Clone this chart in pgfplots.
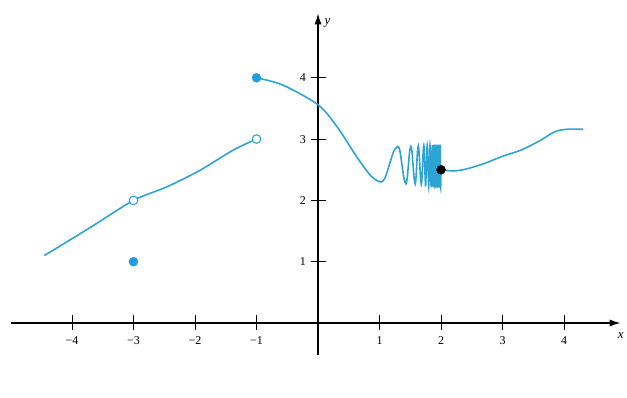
\documentclass[border=0pt]{standalone}
\usepackage{fontspec}
\setmainfont{Liberation Serif}
\usepackage{pgfplots}
\pgfplotsset{compat=1.18}
\usetikzlibrary{arrows.meta}
\definecolor{cblue}{RGB}{45,165,212}
\definecolor{dblue}{RGB}{30,158,218}
\begin{document}
\begin{tikzpicture}
\begin{axis}[
  axis lines=middle,
  x=61.5pt, y=61.3pt,
  xmin=-5.0, xmax=4.92, ymin=-0.52, ymax=5.05,
  clip=false,
  axis line style={line width=1.2pt, black, -{Latex[length=11pt,width=7pt]}},
  xtick={-4,-3,-2,-1,1,2,3,4},
  xticklabels={−4,−3,−2,−1,1,2,3,4},
  ytick={1,2,3,4},
  yticklabels={1,2,3,4},
  tick align=center,
  major tick length=15pt,
  tick style={black, line width=1pt},
  tick label style={font=\fontsize{12}{13}\selectfont},
  x tick label style={anchor=north, yshift=-3pt},
  y tick label style={anchor=east, xshift=-1pt},
  xlabel={\textit{x}},
  ylabel={\textit{y}},
  every axis x label/.style={at={(current axis.right of origin)}, anchor=north, yshift=-6pt, font=\fontsize{13}{14}\selectfont},
  every axis y label/.style={at={(current axis.above origin)}, anchor=north west, xshift=3pt, yshift=-2pt, font=\fontsize{13}{14}\selectfont},
]
% invisible bounding box matching reference proportions
\path (axis cs:-5.171,-1.223) rectangle (axis cs:5.024,5.269);

% left piece
\addplot[cblue, line width=1.6pt, smooth, no marks] coordinates {
  (-4.45,1.10) (-3.7,1.56) (-3,2.00) (-2.46,2.22) (-1.92,2.49) (-1.38,2.82) (-1,3.00)
};

% middle oscillating piece
\addplot[cblue, line width=1.6pt, smooth, tension=0.5, no marks] coordinates {
  (-1,4.00) (-0.57,3.88) (0,3.56) (0.31,3.20) (0.63,2.71) (0.86,2.40) (1.02,2.30)
  (1.09,2.37) (1.16,2.58) (1.23,2.80) (1.30,2.88)
  (1.3325,2.80) (1.365,2.58) (1.3975,2.36) (1.43,2.27)
  (1.45,2.36) (1.47,2.58) (1.49,2.80) (1.51,2.88)
  (1.5275,2.80) (1.545,2.58) (1.5625,2.36) (1.58,2.27)
  (1.5925,2.36) (1.605,2.58) (1.6175,2.80) (1.63,2.89)
  (1.6425,2.80) (1.655,2.58) (1.6675,2.36) (1.68,2.26)
  (1.69,2.36) (1.70,2.58) (1.71,2.80) (1.72,2.90)
  (1.7275,2.80) (1.735,2.58) (1.7425,2.36) (1.75,2.24)
  (1.7625,2.58) (1.775,2.90) (1.7875,2.58) (1.80,2.23)
  (1.81,2.58) (1.82,2.90) (1.83,2.58) (1.84,2.22)
  (1.85,2.58) (1.86,2.90) (1.8675,2.58) (1.875,2.22)
  (1.8825,2.58) (1.89,2.91) (1.8975,2.58) (1.905,2.22)
  (1.92,2.91) (1.93,2.21) (1.94,2.91) (1.95,2.21) (1.96,2.91) (1.968,2.21)
  (1.975,2.91) (1.982,2.21) (1.988,2.91) (1.993,2.21) (2.0,2.50)
};

% right piece
\addplot[cblue, line width=1.6pt, smooth, no marks] coordinates {
  (2,2.50) (2.2,2.48) (2.4,2.51) (2.7,2.60) (3.0,2.72) (3.3,2.82) (3.6,2.97) (3.85,3.12) (4.05,3.16) (4.31,3.16)
};

% filled dots
\addplot[only marks, mark=*, mark size=4.5pt, dblue, mark options={draw=dblue, fill=dblue}] coordinates {(-1,4) (-3,1)};
% black dot
\addplot[only marks, mark=*, mark size=4.5pt, black, mark options={fill=black}] coordinates {(2,2.5)};
% open circles
\addplot[only marks, mark=*, mark size=4.3pt, mark options={draw=cblue, fill=white, line width=1.1pt}] coordinates {(-3,2) (-1,3)};
\end{axis}
\end{tikzpicture}
\end{document}
